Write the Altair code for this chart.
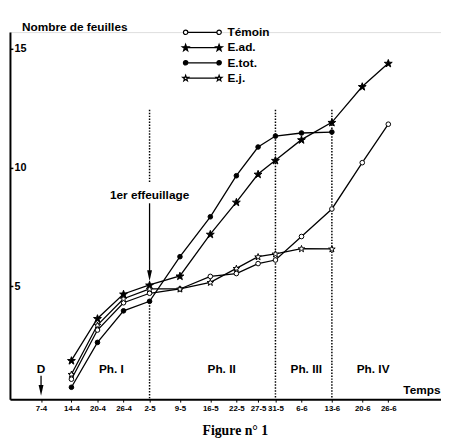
import math
import altair as alt
import pandas as pd

# ---- data ----
date_labels = ["7-4", "14-4", "20-4", "26-4", "2-5", "9-5", "16-5", "22-5",
               "27-5", "31-5", "6-6", "13-6", "20-6", "26-6"]
date_days = [0, 7, 13, 19, 25, 32, 39, 45, 50, 54, 60, 67, 74, 80]

series_names = ["Témoin", "E.ad.", "E.tot.", "E.j."]
temoin = [1.09, 3.16, 4.31, 4.71, 4.89, 5.42, 5.54, 5.96, 6.11, 7.10, 8.26, 10.21, 11.83]
e_ad = [1.88, 3.65, 4.68, 5.06, 5.44, 7.20, 8.55, 9.73, 10.31, 11.18, 11.91, 13.42, 14.40]
e_tot = [0.75, 2.64, 3.97, 4.37, 6.25, 7.93, 9.66, 10.87, 11.33, 11.46, 11.50]
e_j = [1.30, 3.37, 4.48, 4.89, 4.89, 5.17, 5.76, 6.25, 6.37, 6.59, 6.58]

phase_labels = ["Ph. I", "Ph. II", "Ph. III", "Ph. IV"]
phase_days = [16.2, 41.6, 61.1, 76.5]
phase_level = [1.5, 1.5, 1.5, 1.5]

vline_days = [25, 25, 54, 67]
vline_top = [12.44, 4.2, 12.44, 12.44]
vline_bottom = [9.33, 0.25, 0.25, 0.25]

arrow_days = [0, 25]
arrow_top = [1.24, 8.5]
arrow_bottom = [0.7, 5.65]
arrow_head = [0.62, 5.45]

note_texts = ["D", "1er effeuillage"]
note_days = [0, 25]
note_levels = [1.5, 8.83]

# ---- tables ----
rows = []
for name, vals in zip(series_names, [temoin, e_ad, e_tot, e_j]):
    for i, v in enumerate(vals):
        rows.append({"series": name, "day": date_days[1 + i], "value": v})
df = pd.DataFrame(rows)
phases = pd.DataFrame({"label": phase_labels, "day": phase_days, "value": phase_level})
vlines = pd.DataFrame({"day": vline_days, "y1": vline_top, "y2": vline_bottom})
arrows = pd.DataFrame({"day": arrow_days, "y1": arrow_top, "y2": arrow_bottom, "head": arrow_head})
notes = pd.DataFrame({"text": note_texts, "day": note_days, "value": note_levels})


# ---- marker paths ----
def circle_path(cx, r):
    return f"M{cx + r:.3f},0A{r},{r} 0 1,1 {cx - r:.3f},0A{r},{r} 0 1,1 {cx + r:.3f},0Z"


def star_path(cx, R, ratio=0.4):
    pts = []
    for k in range(10):
        ang = math.radians(-90 + 36 * k)
        rr = R if k % 2 == 0 else R * ratio
        pts.append((cx + rr * math.cos(ang), rr * math.sin(ang) + 0.095 * R))
    return "M" + "L".join(f"{x:.3f},{y:.3f}" for x, y in pts) + "Z"


STAR = star_path(0, 1)
H = 3.4
leg_circle = circle_path(-H, 0.45) + circle_path(H, 0.45) + f"M{-H + 0.45:.2f},0L{H - 0.45:.2f},0"
leg_star_big = star_path(-H, 0.72) + star_path(H, 0.72) + f"M{-H + 0.4:.2f},0L{H - 0.4:.2f},0"
leg_star_small = star_path(-H, 0.62) + star_path(H, 0.62) + f"M{-H + 0.4:.2f},0L{H - 0.4:.2f},0"
ARROW = "M-0.45,-1L0.45,-1L0,1Z"

marker_style = {
    "Témoin": dict(shape="circle", fill="white", size=22),
    "E.ad.": dict(shape=STAR, fill="black", size=70),
    "E.tot.": dict(shape="circle", fill="black", size=22),
    "E.j.": dict(shape=STAR, fill="white", size=50),
}

FONT = "Liberation Sans"
W, HGT = 438, 373
xdom = [-7.16, 92.14]
ydom = [0.249, 15.71]

label_expr = ("[" + ",".join(f"'{l}'" for l in date_labels) + "][indexof(["
              + ",".join(str(d) for d in date_days) + "], datum.value)]")

xaxis = alt.Axis(values=date_days, labelExpr=label_expr, tickSize=3, tickWidth=1,
                 tickColor="black", domainColor="black", domainWidth=2,
                 labelFont=FONT, labelFontSize=8, labelFontWeight="bold",
                 labelColor="black", labelPadding=3, labelOverlap=False,
                 labelFlush=False, labelBound=False, grid=False,
                 title="Temps", titleX=437, titleY=-6, titleAlign="right",
                 titleBaseline="alphabetic", titleFont=FONT, titleFontSize=12,
                 titleFontWeight="bold", titleColor="black")
xscale = alt.Scale(domain=xdom, nice=False, zero=False)
yscale = alt.Scale(domain=ydom, nice=False, zero=False)
yaxis = alt.Axis(orient="right", offset=-W, values=[5, 10, 15], tickSize=3,
                 tickWidth=1.5, tickColor="black", domainColor="black",
                 domainWidth=2, labelFont=FONT, labelFontSize=11,
                 labelFontWeight="bold", labelColor="black", labelPadding=1,
                 labelFlush=False, labelOverlap=False, grid=False,
                 title="Nombre de feuilles", titleAngle=0, titleX=11.7,
                 titleY=-2, titleAlign="left", titleBaseline="alphabetic",
                 titleFont=FONT, titleFontSize=12, titleFontWeight="bold",
                 titleColor="black")


def X(field="day"):
    return alt.X(f"{field}:Q", scale=xscale, axis=xaxis)


def Y(field="value"):
    return alt.Y(f"{field}:Q", scale=yscale, axis=yaxis)


base = alt.Chart(df)

dotted = alt.Chart(vlines).mark_rule(color="black", strokeWidth=1.5, strokeDash=[1.5, 1.5]).encode(
    x=X(), y=Y("y1"), y2="y2:Q")

lines = base.mark_line(color="black", strokeWidth=1.3).encode(
    x=X(), y=Y(), detail="series:N")

point_layers = []
for name in series_names:
    st = marker_style[name]
    point_layers.append(
        base.transform_filter(alt.datum.series == name).mark_point(
            shape=st["shape"], fill=st["fill"], size=st["size"], stroke="black",
            strokeWidth=1, opacity=1, filled=False
        ).encode(x=X(), y=Y())
    )

leg = alt.Legend(orient="none", legendX=189.5, legendY=-5.8, title=None, padding=0,
                 symbolSize=100, symbolStrokeWidth=1.2, symbolStrokeColor="black",
                 symbolOpacity=1, labelFont=FONT, labelFontSize=12, labelFontWeight="bold",
                 labelColor="black", labelOffset=19.5, rowPadding=3.5)
legend_layer = base.transform_filter("false").mark_point(opacity=1, strokeWidth=1.2).encode(
    x=X(), y=Y(),
    shape=alt.Shape("series:N", scale=alt.Scale(domain=series_names, range=[leg_circle, leg_star_big, leg_circle, leg_star_small]), legend=leg),
    fill=alt.Fill("series:N", scale=alt.Scale(domain=series_names, range=["white", "black", "black", "white"]), legend=leg),
    stroke=alt.Stroke("series:N", scale=alt.Scale(domain=series_names, range=["black", "black", "black", "black"]), legend=leg),
)

arrow_shaft = alt.Chart(arrows).mark_rule(color="black", strokeWidth=1.3).encode(
    x=X(), y=Y("y1"), y2="y2:Q")
arrow_tip = alt.Chart(arrows).mark_point(shape=ARROW, filled=True, color="black", size=121, opacity=1).encode(
    x=X(), y=Y("head"))

phase_text = alt.Chart(phases).mark_text(font=FONT, fontSize=12, fontWeight="bold", color="black").encode(
    x=X(), y=Y(), text="label:N")
note_text = alt.Chart(notes).mark_text(font=FONT, fontSize=12, fontWeight="bold", color="black").encode(
    x=X(), y=Y(), text="text:N")

chart = alt.layer(dotted, lines, *point_layers, legend_layer, arrow_shaft, arrow_tip, phase_text, note_text).properties(
    width=W, height=HGT,
    title=alt.TitleParams("Figure n° 1", orient="bottom", font="Liberation Serif", fontSize=14,
                          fontWeight="bold", anchor="middle", frame="group", dx=10, offset=11,
                          color="black"),
    autosize=alt.AutoSizeParams(type="none"),
    padding={"left": 2, "top": 21, "right": 0, "bottom": 37},
).configure_view(stroke=None).configure(font=FONT).configure_axis(labelOverlap=False)

chart.save("out.html", embed_options={"renderer": "svg", "actions": False})
